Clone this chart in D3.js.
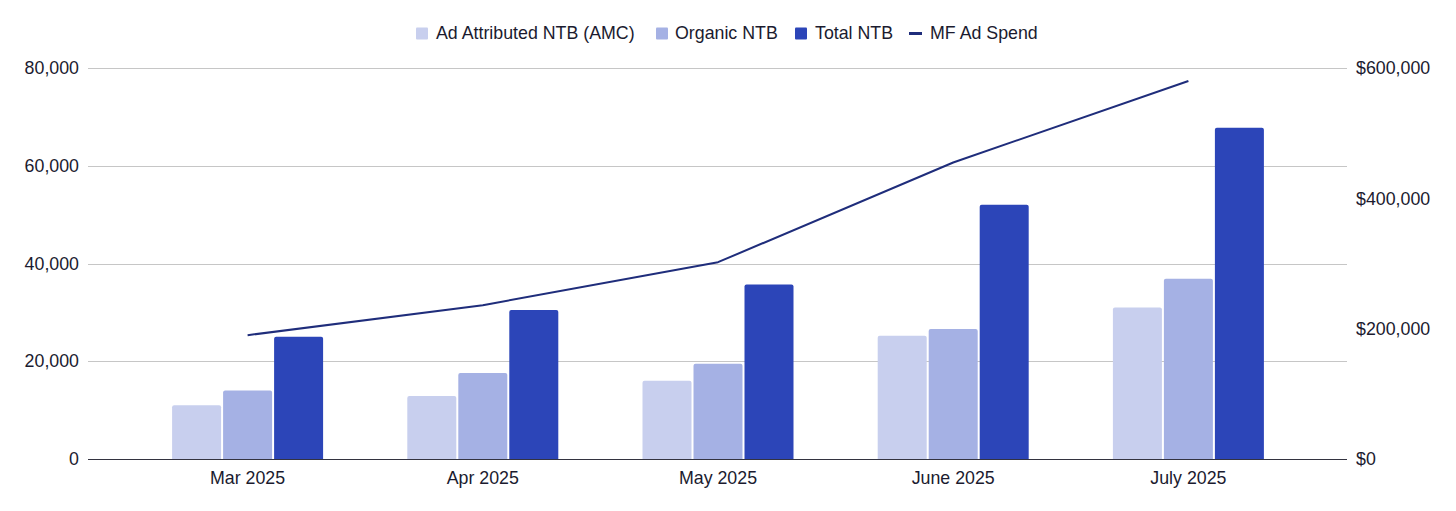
<!DOCTYPE html>
<html><head><meta charset="utf-8">
<script src="https://cdn.jsdelivr.net/npm/d3@7"></script>
<style>body{margin:0;background:#fff;}svg{display:block;font-family:"Liberation Sans",Arial,sans-serif;}</style>
</head><body>
<svg id="c" width="1456" height="511"></svg>
<script>
const categories = ["Mar 2025","Apr 2025","May 2025","June 2025","July 2025"];
const adAttributed = [11000, 12900, 16000, 25200, 31000];
const organic = [14000, 17600, 19500, 26600, 36900];
const totalNTB = [25000, 30500, 35700, 52000, 67800];
const adSpend = [190000, 236000, 302000, 455000, 580000];
const leftTicks = [0, 20000, 40000, 60000, 80000];
const rightTicks = [0, 200000, 400000, 600000];
const seriesNames = ["Ad Attributed NTB (AMC)","Organic NTB","Total NTB","MF Ad Spend"];
const colors = ["#c8cfee","#a5b1e4","#2c45b8","#1f2d7b"];

const svg = d3.select("#c");
const gridL = 88, gridR = 1347, plotTop = 68, plotBottom = 459;
const FS = 17.8;
const x = d3.scaleBand().domain(categories).range([130, 1306]).paddingInner(0).paddingOuter(0);
const yL = d3.scaleLinear().domain([0, 80000]).range([plotBottom, plotTop]);
const yR = d3.scaleLinear().domain([0, 600000]).range([plotBottom, plotTop]);
const groupW = 151, barW = 49, gap = 2;

svg.append("g").selectAll("line").data(leftTicks.slice(1)).join("line")
  .attr("x1", gridL).attr("x2", gridR).attr("y1", d=>Math.round(yL(d))+0.5).attr("y2", d=>Math.round(yL(d))+0.5)
  .attr("stroke", "#c6c6c6").attr("stroke-width", 1);

const fmt = d3.format(",");
svg.append("g").selectAll("text").data(leftTicks).join("text")
  .attr("x", 79).attr("y", d=>yL(d)).attr("dy", "0.35em").attr("text-anchor","end")
  .attr("font-size", FS).attr("fill", "#1b1b2f").text(d=>fmt(d));
svg.append("g").selectAll("text").data(rightTicks).join("text")
  .attr("x", 1356).attr("y", d=>yR(d)).attr("dy", "0.35em").attr("text-anchor","start")
  .attr("font-size", FS).attr("fill", "#1b1b2f").text(d=>"$"+fmt(d));

const series = [adAttributed, organic, totalNTB];
function roundTop(x0, y0, w, h, r){
  r = Math.min(r, h);
  return `M${x0},${y0+h}V${y0+r}Q${x0},${y0} ${x0+r},${y0}H${x0+w-r}Q${x0+w},${y0} ${x0+w},${y0+r}V${y0+h}Z`;
}
series.forEach((vals, si) => {
  svg.append("g").selectAll("path").data(vals).join("path")
    .attr("d", (v,i) => {
      const cx = x(categories[i]) + x.bandwidth()/2;
      const x0 = cx - groupW/2 + si*(barW+gap);
      return roundTop(x0, yL(v), barW, plotBottom - yL(v), 2);
    })
    .attr("fill", colors[si]);
});

svg.append("line").attr("x1", gridL).attr("x2", gridR).attr("y1", plotBottom+0.5).attr("y2", plotBottom+0.5)
  .attr("stroke", "#333340").attr("stroke-width", 1.2);

svg.append("g").selectAll("text").data(categories).join("text")
  .attr("x", d=>x(d)+x.bandwidth()/2).attr("y", 478).attr("dy","0.35em").attr("text-anchor","middle")
  .attr("font-size", FS).attr("fill", "#1b1b2f").text(d=>d);

const line = d3.line().x((v,i)=>x(categories[i])+x.bandwidth()/2).y(v=>yR(v));
svg.append("path").datum(adSpend).attr("d", line).attr("fill","none")
  .attr("stroke", colors[3]).attr("stroke-width", 2).attr("stroke-linejoin","round");

const legendItems = [
  {name: seriesNames[0], c: colors[0], sx: 416, tx: 436, type:"sq"},
  {name: seriesNames[1], c: colors[1], sx: 656, tx: 675, type:"sq"},
  {name: seriesNames[2], c: colors[2], sx: 795, tx: 815, type:"sq"},
  {name: seriesNames[3], c: colors[3], sx: 909, tx: 930, type:"ln"}
];
const lg = svg.append("g");
legendItems.forEach(it => {
  if (it.type === "sq") {
    lg.append("rect").attr("x", it.sx).attr("y", 27.5).attr("width", 12).attr("height", 12).attr("rx",1).attr("fill", it.c);
  } else {
    lg.append("rect").attr("x", it.sx).attr("y", 32).attr("width", 13).attr("height", 3).attr("fill", it.c);
  }
  lg.append("text").attr("x", it.tx).attr("y", 33).attr("dy","0.35em").attr("font-size", FS)
    .attr("fill", "#1b1b2f").text(it.name);
});
</script>
</body></html>
